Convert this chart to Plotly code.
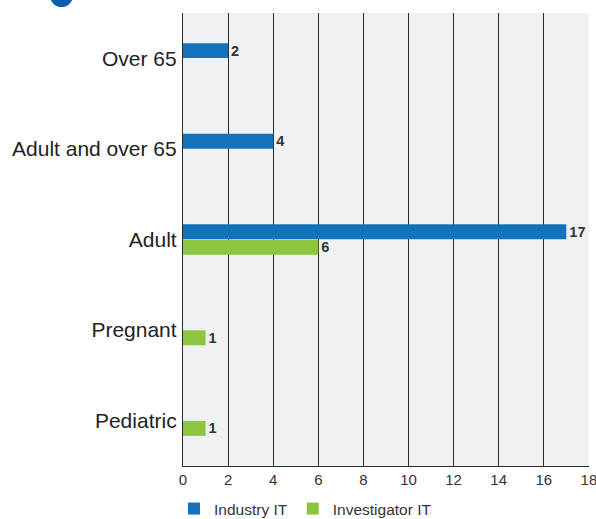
import plotly.graph_objects as go

categories = ["Over 65", "Adult and over 65", "Adult", "Pregnant", "Pediatric"]
industry_it = [2, 4, 17, None, None]
investigator_it = [None, None, 6, 1, 1]
x_ticks = [0, 2, 4, 6, 8, 10, 12, 14, 16, 18]

W, H = 596, 519
ml, mr, mt, mb = 183, 7, 13, 53
pw, ph = W - ml - mr, H - mt - mb

def lbl(vals):
    return ["" if v is None else str(v) for v in vals]

valfont = dict(family="Liberation Sans, Arial", size=14.5, color="#333333", weight="bold")

fig = go.Figure()
fig.add_trace(go.Bar(
    y=categories, x=industry_it, orientation="h", name="Industry IT",
    marker=dict(color="#1273bb", line=dict(width=0)),
    text=lbl(industry_it), textposition="outside", cliponaxis=False,
    constraintext="none", textfont=valfont,
))
fig.add_trace(go.Bar(
    y=categories, x=investigator_it, orientation="h", name="Investigator IT",
    marker=dict(color="#8cc63f", line=dict(width=0)),
    text=lbl(investigator_it), textposition="outside", cliponaxis=False,
    constraintext="none", textfont=valfont,
))

def px2x(px):
    return (px - ml) / pw

def py2y(py):
    return (H - mb - py) / ph

fig.add_shape(type="circle", xref="paper", yref="paper",
              x0=px2x(50), x1=px2x(73), y0=py2y(7), y1=py2y(-16),
              fillcolor="#0b5fad", line=dict(width=0))

fig.update_layout(
    width=W, height=H,
    margin=dict(l=ml, r=mr, t=mt, b=mb, autoexpand=False),
    paper_bgcolor="white", plot_bgcolor="#f0f1f3",
    barmode="group", bargap=0.66, bargroupgap=0.03,
    font=dict(family="Liberation Sans, Arial", color="#333333"),
    showlegend=True,
    legend=dict(orientation="h", xref="container", x=(181 - 7) / W, xanchor="left",
                yref="container", y=1 - 492 / H, yanchor="top",
                font=dict(size=15.5, color="#333333"), itemwidth=30,
                traceorder="normal"),
    xaxis=dict(range=[0, 18.005], tickvals=x_ticks, showgrid=True, gridcolor="#2b2b2b",
               gridwidth=1.3, showline=True, linecolor="#2b2b2b", linewidth=1.3,
               zeroline=False, ticks="", tickfont=dict(size=15, color="#333333"),
               ticklabeloverflow="allow", fixedrange=True),
    yaxis=dict(autorange="reversed", showline=True, linecolor="#2b2b2b", linewidth=1.3,
               ticks="", ticklabelstandoff=1, tickfont=dict(size=21, color="#222222"),
               showgrid=False, fixedrange=True),
)

fig.write_html("out.html")
